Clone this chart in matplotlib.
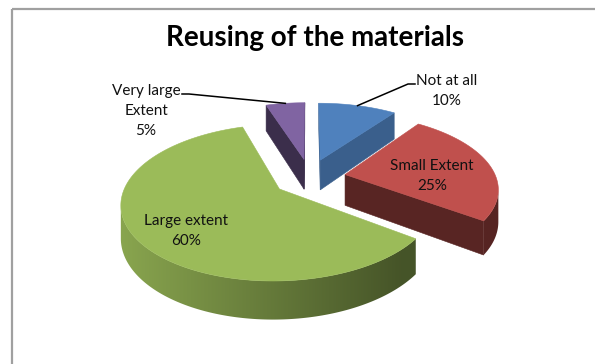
import numpy as np
import matplotlib.pyplot as plt
from matplotlib.colors import to_rgb
from matplotlib.patches import Polygon, Rectangle

# slice data, clockwise from 12 o'clock
labels = ['Not at all', 'Small Extent', 'Large extent', 'Very large\nExtent']
values = [10, 25, 60, 5]
colors = ['#4f81bd', '#c0504d', '#9bbb59', '#8064a2']
title = 'Reusing of the materials'

# darkness of the flat cut faces of each slice
wall_shade = [0.74, 0.46, 0.5, 0.46]
# where each label sits (pixel coords of the figure), half width for leaders
label_pos = [(447, 91), (432, 176), (186, 231), (146, 111)]
label_half = [32, 0, 0, 36]
leader = [True, False, False, True]

# projection of the pie disk onto the page
CX, CY = 309.5, 177.5     # centre of the top face
A, B = 151.0, 72.0        # horizontal / vertical radius
D = 31.0                  # thickness
P = 0.17                  # perspective strength
EXPLODE = 0.24
KY = 1.1
LINE_H = 20               # label line pitch in pixels


def proj(X, Y, Z=0.0):
    w = 1.0 / (1.0 + P * Y)
    return CX + A * X * w, CY - (B * Y + D * Z) * w


def shade(col, s):
    return tuple(np.clip(np.array(to_rgb(col)) * s, 0, 1))


def area(pts):
    x, y = np.array(pts).T
    return 0.5 * np.sum(x * np.roll(y, -1) - np.roll(x, -1) * y)


def side_gradient(xs):
    # outer wall is lit from the left
    return np.clip(0.88 - (xs - 122) / 280 * 0.43, 0.45, 0.9)


fig = plt.figure(figsize=(5.95, 3.64), dpi=100)
ax = fig.add_axes([0, 0, 1, 1])
ax.set_xlim(0, 595)
ax.set_ylim(364, 0)
ax.axis('off')

ax.add_patch(Rectangle((11.5, 8.5), 700, 500, fill=False,
                       ec='#a0a0a0', lw=1.6, zorder=0))

total = float(sum(values))
cum = np.cumsum([0] + values[:-1])
slices = []
for i, v in enumerate(values):
    a0 = 90 - 360 * cum[i] / total          # ccw end
    a1 = a0 - 360 * v / total               # ccw start
    m = np.radians((a0 + a1) / 2)
    ox, oy = EXPLODE * np.cos(m), EXPLODE * KY * np.sin(m)
    slices.append((i, a1, a0, m, ox, oy))

gx = np.linspace(100, 520, 300)
z = 1
# painter's order: far slices first
for i, a1, a0, m, ox, oy in sorted(slices, key=lambda s: -s[5]):
    th = np.radians(np.linspace(a1, a0, max(int(a0 - a1) * 2, 6)))
    rim = [(ox + np.cos(t), oy + np.sin(t)) for t in th]
    top = [proj(ox, oy)] + [proj(x, y) for x, y in rim]
    sgn = np.sign(area(top))

    # flat cut faces
    ct, cb = proj(ox, oy, 0), proj(ox, oy, -1)
    end = [ct, proj(*rim[-1], 0), proj(*rim[-1], -1), cb]
    start = [ct, cb, proj(*rim[0], -1), proj(*rim[0], 0)]
    for face in (end, start):
        if np.sign(area(face)) == sgn:
            c = shade(colors[i], wall_shade[i])
            ax.add_patch(Polygon(face, closed=True, fc=c, ec=c, lw=0.4, zorder=z))

    # curved outer wall: visible part as one polygon filled with a gradient
    vis = []
    for k in range(len(rim) - 1):
        q = [proj(*rim[k], 0), proj(*rim[k], -1),
             proj(*rim[k + 1], -1), proj(*rim[k + 1], 0)]
        if np.sign(area(q)) == sgn:
            vis.append(k)
    if vis:
        ks = list(range(vis[0], vis[-1] + 2))
        up = [proj(*rim[k], 0) for k in ks]
        lo = [proj(*rim[k], -1) for k in ks[::-1]]
        wall = Polygon(up + lo, closed=True, fc='none', ec='none', zorder=z)
        ax.add_patch(wall)
        grad = np.array(to_rgb(colors[i]))[None, None, :] * side_gradient(gx)[None, :, None]
        im = ax.imshow(np.clip(grad, 0, 1), extent=(gx[0], gx[-1], 364, 0),
                       aspect='auto', interpolation='bilinear', zorder=z)
        im.set_clip_path(wall)
        ax.set_xlim(0, 595)
        ax.set_ylim(364, 0)

    ax.add_patch(Polygon(top, closed=True, fc=colors[i], ec=colors[i],
                         lw=0.4, zorder=z + 0.5))
    z += 1

# labels and leader lines
for i, a1, a0, m, ox, oy in slices:
    lx, ly = label_pos[i]
    pct = '%d%%' % round(100 * values[i] / total)
    lines = (labels[i] + '\n' + pct).split('\n')
    y_first = ly - (len(lines) - 1) * LINE_H / 2
    for j, s in enumerate(lines):
        ax.text(lx, y_first + j * LINE_H, s, ha='center', va='center',
                fontsize=11, family='Lato', color='#111111', zorder=10)
    if leader[i]:
        tx, ty = proj(ox + np.cos(m), oy + np.sin(m))
        y0 = y_first + 3
        side = 1 if tx > lx else -1
        x0 = lx + side * label_half[i]
        ax.plot([x0, x0 + side * 7, tx], [y0, y0, ty], color='black',
                lw=1.1, zorder=10)

ax.text(315, 38, title, ha='center', va='center', fontsize=20,
        fontweight='bold', family='Lato', color='black', zorder=10)

fig.savefig('out.png', dpi=100)
